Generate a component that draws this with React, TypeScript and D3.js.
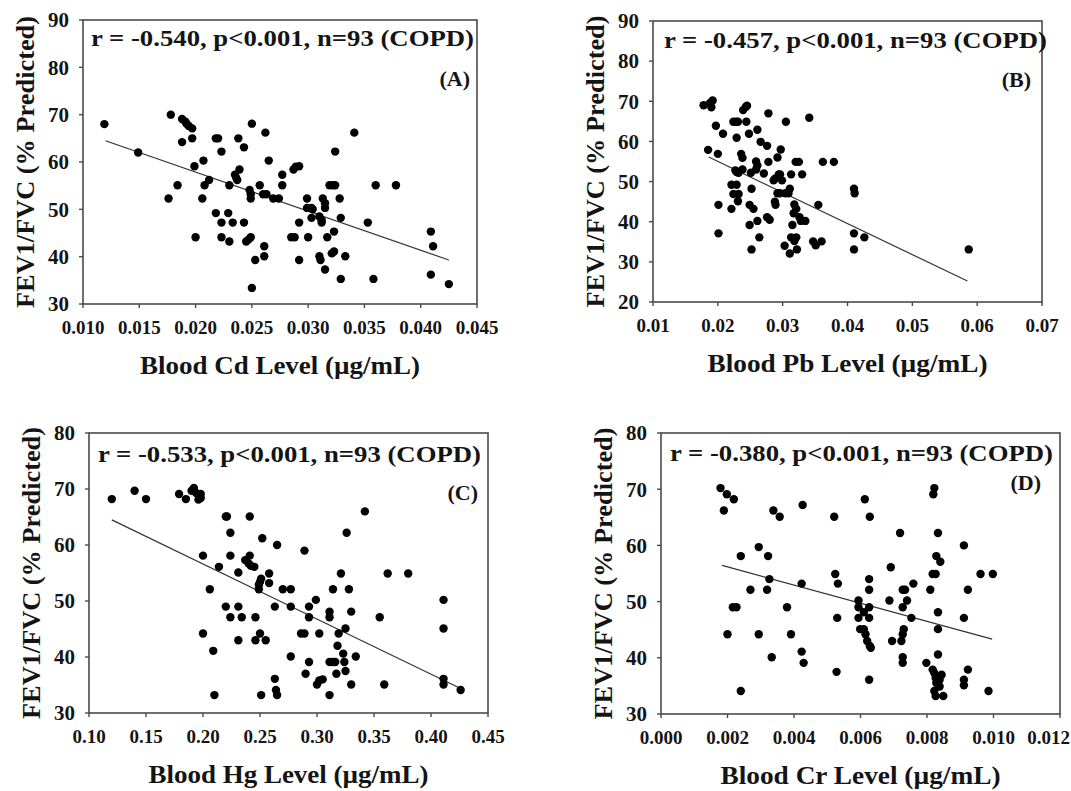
import React from "react";
import * as d3 from "d3";

// FEV1/FVC (% predicted) against blood metal levels, COPD group
const cdPoints: [number, number][] = [
  [0.0119, 68], [0.0149, 62], [0.0178, 70], [0.0176, 52.3], [0.0184, 55.1],
  [0.0188, 69.1], [0.0191, 68.5], [0.0192, 68.1], [0.0194, 67.6], [0.0197, 67.1],
  [0.0188, 64.2], [0.0197, 65], [0.0199, 59.1], [0.02, 44.1], [0.0207, 60.3], [0.0206, 52.3], [0.0208, 55.1], [0.0212, 56.2],
  [0.0218, 65], [0.022, 65], [0.0218, 49.2], [0.0223, 62.2], [0.0223, 47.2], [0.0223, 44.1], [0.0229, 49.2], [0.023, 55.1], [0.0233, 47.2], [0.023, 43.2],
  [0.0235, 57.3], [0.0236, 56.7], [0.0237, 56.2], [0.0238, 65], [0.0239, 58.4], [0.0243, 63.1], [0.0243, 47.2], [0.0245, 43.2],
  [0.025, 68.1], [0.0248, 54.1], [0.0249, 53.2], [0.0249, 52.3], [0.0249, 44.1], [0.0247, 43.6], [0.025, 33.4], [0.0253, 39.3], [0.0257, 55.1],
  [0.026, 53.2], [0.0263, 53.2], [0.0262, 66.2], [0.0261, 42.2], [0.0261, 40.1], [0.0265, 60.3], [0.0269, 52.3], [0.0274, 52.3], [0.0277, 57.3], [0.0277, 55.1],
  [0.0287, 58.4], [0.0289, 59], [0.0292, 59.1], [0.0285, 44.1], [0.0288, 44.1], [0.0292, 47.2], [0.0292, 39.3], [0.0299, 52.3], [0.0299, 50.3], [0.0303, 50.3], [0.0304, 50], [0.03, 44.1], [0.0303, 48.2],
  [0.031, 48.5], [0.0312, 47.7], [0.0312, 47.2], [0.0313, 52.3], [0.0315, 51.3], [0.0315, 50.3], [0.031, 40.1], [0.0311, 39.3], [0.0315, 37.3], [0.0317, 44.1],
  [0.0319, 55.1], [0.0322, 55.1], [0.0324, 55.1], [0.0324, 62.2], [0.0323, 45.3], [0.0321, 40.7], [0.0323, 41.1], [0.0328, 52.3], [0.0329, 48.2], [0.0329, 35.3], [0.0333, 40.1],
  [0.0341, 66.2], [0.0353, 47.2], [0.036, 55.1], [0.0358, 35.3], [0.0378, 55.1], [0.0409, 45.3], [0.0411, 42.2], [0.0409, 36.2], [0.0425, 34.2],
];

const pbPoints: [number, number][] = [
  [0.0178, 69], [0.0188, 69.6], [0.0192, 70.2], [0.019, 68.5], [0.0197, 63.9], [0.0185, 57.9], [0.02, 56.9], [0.0208, 61.9], [0.0201, 44.2], [0.0201, 37.1],
  [0.0221, 43.2], [0.0221, 49.2], [0.0224, 46.9], [0.0224, 64.9], [0.0228, 64.9], [0.0231, 64.9], [0.0229, 60.9], [0.0227, 52.8], [0.0229, 52.4], [0.0232, 52.2],
  [0.0229, 49.2], [0.0232, 46.9], [0.0231, 45.1], [0.0236, 56.9], [0.0238, 55.9], [0.0238, 53.0], [0.0239, 67.8], [0.0243, 68.6], [0.0245, 68.9], [0.0244, 64.9],
  [0.0248, 61.9], [0.0251, 52.2], [0.0252, 48.2], [0.0249, 44.2], [0.0255, 43.2], [0.0249, 39.2], [0.0252, 33.1], [0.0259, 53.0], [0.0261, 54.0], [0.0259, 55.0],
  [0.0261, 62.9], [0.0261, 40.2], [0.0264, 36.1], [0.0266, 59.9], [0.0271, 52.0], [0.0276, 58.9], [0.0278, 67.0], [0.0278, 54.9], [0.0276, 41.1], [0.028, 40.5],
  [0.0286, 50.3], [0.0288, 50.7], [0.0288, 45.0], [0.0289, 44.2], [0.0292, 56.0], [0.0294, 51.8], [0.0296, 51.8], [0.0292, 47.1], [0.0296, 47.1], [0.0297, 58.0],
  [0.0299, 50.3], [0.0303, 34.0], [0.0305, 64.9], [0.0304, 47.1], [0.0309, 47.1], [0.0311, 48.2], [0.0311, 32.1], [0.0313, 51.8], [0.0315, 39.2], [0.0313, 36.1],
  [0.0318, 35.2], [0.0321, 36.1], [0.0317, 42.1], [0.0318, 44.3], [0.0321, 43.2], [0.0322, 33.1], [0.032, 54.9], [0.0325, 54.9], [0.0326, 41.1], [0.0328, 40.2],
  [0.0335, 40.2], [0.033, 51.8], [0.0341, 65.9], [0.0347, 35.1], [0.0351, 34.1], [0.036, 35.1], [0.0355, 44.2], [0.0362, 54.9], [0.0379, 54.9], [0.041, 48.2],
  [0.0411, 47.1], [0.041, 37.1], [0.041, 33.1], [0.0426, 36.1], [0.0587, 33.1],
];

const hgPoints: [number, number][] = [
  [0.12, 68.2], [0.14, 69.7], [0.15, 68.2], [0.179, 69.1], [0.185, 68.2], [0.19, 69.7], [0.192, 70.2], [0.194, 69.3], [0.196, 68.1], [0.198, 69.1],
  [0.198, 68.4], [0.2, 58.1], [0.2, 44.2], [0.206, 52.1], [0.209, 41.1], [0.21, 33.2], [0.214, 56.1], [0.22, 65.1], [0.221, 65.1], [0.22, 49.0],
  [0.224, 62.2], [0.224, 58.1], [0.224, 47.1], [0.231, 55.1], [0.231, 49.0], [0.231, 43.0], [0.234, 47.1], [0.237, 57.3], [0.24, 56.7], [0.242, 56.3],
  [0.245, 56.1], [0.241, 65.1], [0.241, 58.1], [0.246, 47.1], [0.246, 43.0], [0.249, 52.1], [0.249, 52.9], [0.25, 53.4], [0.251, 54.0], [0.25, 44.2],
  [0.251, 33.2], [0.252, 61.2], [0.255, 43.0], [0.258, 54.9], [0.258, 53.2], [0.265, 60.0], [0.263, 49.0], [0.263, 36.1], [0.264, 34.1], [0.265, 33.2],
  [0.27, 52.1], [0.277, 52.1], [0.277, 49.0], [0.277, 40.1], [0.286, 44.2], [0.289, 44.2], [0.289, 59.0], [0.29, 37.0], [0.293, 49.0], [0.293, 47.1],
  [0.293, 39.1], [0.299, 50.2], [0.3, 35.1], [0.302, 35.8], [0.305, 36.0], [0.302, 44.2], [0.311, 33.2], [0.311, 48.1], [0.311, 47.1], [0.311, 39.1],
  [0.314, 39.1], [0.316, 39.1], [0.314, 52.1], [0.317, 37.0], [0.318, 42.0], [0.319, 44.2], [0.321, 54.9], [0.323, 40.6], [0.324, 39.1], [0.325, 45.1],
  [0.325, 37.5], [0.326, 62.2], [0.328, 52.1], [0.33, 48.1], [0.33, 35.1], [0.334, 40.1], [0.342, 66.0], [0.355, 47.1], [0.359, 35.1], [0.362, 54.9],
  [0.38, 54.9], [0.411, 50.2], [0.411, 45.1], [0.411, 36.1], [0.411, 35.1], [0.426, 34.1],
];

const crPoints: [number, number][] = [
  [0.00179, 70.2], [0.00198, 69.1], [0.00219, 68.2], [0.00189, 66.2], [0.002, 44.2], [0.00216, 49.0], [0.00227, 49.0], [0.0024, 58.1], [0.0024, 34.1], [0.00269, 52.1],
  [0.00294, 59.7], [0.00294, 44.2], [0.00322, 58.1], [0.00319, 52.1], [0.00326, 54.0], [0.00333, 40.1], [0.00338, 66.2], [0.00357, 65.1], [0.00379, 49.0], [0.00391, 44.2],
  [0.00423, 53.2], [0.00426, 67.2], [0.00423, 41.1], [0.00429, 39.1], [0.00521, 65.1], [0.00524, 54.9], [0.00532, 53.2], [0.0053, 47.1], [0.00528, 37.5], [0.00594, 50.2],
  [0.00594, 49.0], [0.00594, 47.1], [0.00599, 45.1], [0.0061, 45.1], [0.0061, 48.1], [0.00613, 68.2], [0.00615, 44.2], [0.0062, 43.0], [0.00628, 42.1], [0.00631, 41.8],
  [0.00626, 54.0], [0.00626, 52.1], [0.00626, 49.0], [0.00626, 47.1], [0.00628, 65.1], [0.00626, 36.1], [0.00691, 56.1], [0.00687, 50.2], [0.00695, 43.0], [0.00719, 62.2],
  [0.00723, 43.0], [0.00727, 44.2], [0.0073, 45.1], [0.00727, 49.0], [0.00727, 52.1], [0.00734, 52.1], [0.0074, 50.2], [0.00727, 40.1], [0.00727, 39.1], [0.00753, 47.1],
  [0.00759, 53.2], [0.00798, 39.1], [0.0081, 52.1], [0.00817, 54.9], [0.00826, 54.9], [0.00819, 69.1], [0.00822, 70.2], [0.00817, 37.9], [0.00822, 37.3], [0.00826, 36.4],
  [0.00828, 35.5], [0.00822, 34.1], [0.00826, 33.2], [0.00828, 58.1], [0.0084, 57.1], [0.00833, 62.2], [0.00833, 48.1], [0.00833, 45.1], [0.00833, 40.6], [0.00838, 36.1],
  [0.00844, 37.0], [0.00838, 34.9], [0.00849, 33.2], [0.00911, 60.0], [0.00911, 47.1], [0.00911, 36.1], [0.00911, 35.1], [0.00923, 52.1], [0.00923, 37.9], [0.00961, 54.9],
  [0.00998, 54.9], [0.00985, 34.1],
];

// Axis ticks
const cdXTicks = [0.01, 0.015, 0.02, 0.025, 0.03, 0.035, 0.04, 0.045];
const pbXTicks = [0.01, 0.02, 0.03, 0.04, 0.05, 0.06, 0.07];
const hgXTicks = [0.1, 0.15, 0.2, 0.25, 0.3, 0.35, 0.4, 0.45];
const crXTicks = [0, 0.002, 0.004, 0.006, 0.008, 0.01, 0.012];
const cdYTicks = [30, 40, 50, 60, 70, 80, 90];
const pbYTicks = [20, 30, 40, 50, 60, 70, 80, 90];
const hgYTicks = [30, 40, 50, 60, 70, 80];
const crYTicks = [30, 40, 50, 60, 70, 80];

// Linear fits: [intercept, slope] and the x span the fitted line covers
const cdFit = [74.4, -826];
const pbFit = [70.5, -774];
const hgFit = [76.3, -98.4];
const crFit = [59.4, -1613];
const cdFitSpan = [0.012, 0.0425];
const pbFitSpan = [0.0186, 0.0585];
const hgFitSpan = [0.12, 0.426];
const crFitSpan = [0.00184, 0.00996];

const statLabels = [
  "r = -0.540, p<0.001, n=93 (COPD)",
  "r = -0.457, p<0.001, n=93 (COPD)",
  "r = -0.533, p<0.001, n=93 (COPD)",
  "r = -0.380, p<0.001, n=93 (COPD)",
];
const panelTags = ["(A)", "(B)", "(C)", "(D)"];
const xTitles = [
  "Blood Cd Level (\u00b5g/mL)",
  "Blood Pb Level (\u00b5g/mL)",
  "Blood Hg Level (\u00b5g/mL)",
  "Blood Cr Level (\u00b5g/mL)",
];
const yTitle = "FEV1/FVC (%  Predicted)";

const WIDTH = 1071;
const HEIGHT = 791;
const FONT = "'Liberation Serif', 'Times New Roman', serif";
const INK = "#141414";
const AXIS = "#4a4a4a";

type PanelSpec = {
  box: { left: number; right: number; top: number; bottom: number };
  points: [number, number][];
  xTicks: number[];
  yTicks: number[];
  xFormat: string;
  fit: number[];
  span: number[];
  stat: string;
  tag: string;
  xTitle: string;
  statDx: number;
  statDy: number;
  tagDx: number;
  tagDy: number;
};

const panels: PanelSpec[] = [
  {
    box: { left: 83, right: 477, top: 20, bottom: 304 },
    points: cdPoints, xTicks: cdXTicks, yTicks: cdYTicks, xFormat: ".3f",
    fit: cdFit, span: cdFitSpan, stat: statLabels[0], tag: panelTags[0], xTitle: xTitles[0],
    statDx: 8, statDy: 26, tagDx: 7, tagDy: 66,
  },
  {
    box: { left: 653, right: 1042, top: 21, bottom: 302 },
    points: pbPoints, xTicks: pbXTicks, yTicks: pbYTicks, xFormat: ".2f",
    fit: pbFit, span: pbFitSpan, stat: statLabels[1], tag: panelTags[1], xTitle: xTitles[1],
    statDx: 11, statDy: 27, tagDx: 11, tagDy: 66,
  },
  {
    box: { left: 89, right: 488, top: 433, bottom: 713 },
    points: hgPoints, xTicks: hgXTicks, yTicks: hgYTicks, xFormat: ".2f",
    fit: hgFit, span: hgFitSpan, stat: statLabels[2], tag: panelTags[2], xTitle: xTitles[2],
    statDx: 9, statDy: 29, tagDx: 10, tagDy: 67,
  },
  {
    box: { left: 661, right: 1060, top: 433, bottom: 714 },
    points: crPoints, xTicks: crXTicks, yTicks: crYTicks, xFormat: ".3f",
    fit: crFit, span: crFitSpan, stat: statLabels[3], tag: panelTags[3], xTitle: xTitles[3],
    statDx: 9, statDy: 28, tagDx: 19, tagDy: 57,
  },
];

function Panel({ spec }: { spec: PanelSpec }) {
  const { box } = spec;
  const x = d3
    .scaleLinear()
    .domain([spec.xTicks[0], spec.xTicks[spec.xTicks.length - 1]])
    .range([box.left, box.right]);
  const y = d3
    .scaleLinear()
    .domain([spec.yTicks[0], spec.yTicks[spec.yTicks.length - 1]])
    .range([box.bottom, box.top]);
  const fmt = d3.format(spec.xFormat);
  const fitLine = d3
    .line<number>()
    .x((v) => x(v))
    .y((v) => y(spec.fit[0] + spec.fit[1] * v));
  const midX = (box.left + box.right) / 2;
  const midY = (box.top + box.bottom) / 2;

  return (
    <g>
      <rect
        x={box.left}
        y={box.top}
        width={box.right - box.left}
        height={box.bottom - box.top}
        fill="none"
        stroke={AXIS}
        strokeWidth={1.6}
      />
      {spec.xTicks.map((t) => {
        const tx = x(t);
        // keep the outermost label inside the canvas
        const nearEdge = tx + 21 > WIDTH - 2;
        return (
          <g key={"x" + t}>
            <line x1={tx} x2={tx} y1={box.bottom} y2={box.bottom + 4} stroke={AXIS} strokeWidth={1.4} />
            <text
              x={nearEdge ? WIDTH - 1 : tx}
              y={box.bottom + 30}
              textAnchor={nearEdge ? "end" : "middle"}
              fontSize={19}
              fontWeight="bold"
              fontFamily={FONT}
              fill={INK}
            >
              {fmt(t)}
            </text>
          </g>
        );
      })}
      {spec.yTicks.map((t) => (
        <g key={"y" + t}>
          <line x1={box.left - 4} x2={box.left} y1={y(t)} y2={y(t)} stroke={AXIS} strokeWidth={1.4} />
          <text
            x={box.left - 14}
            y={y(t)}
            dy="0.35em"
            textAnchor="end"
            fontSize={21}
            fontWeight="bold"
            fontFamily={FONT}
            fill={INK}
          >
            {t}
          </text>
        </g>
      ))}
      <path d={fitLine(spec.span) ?? ""} fill="none" stroke="#333" strokeWidth={1.2} />
      {spec.points.map((p, i) => (
        <circle key={i} cx={x(p[0])} cy={y(p[1])} r={4.2} fill="#000" />
      ))}
      <text
        x={box.left + spec.statDx}
        y={box.top + spec.statDy}
        fontSize={24}
        fontWeight="bold"
        fontFamily={FONT}
        fill={INK}
        textLength={383}
        lengthAdjust="spacingAndGlyphs"
      >
        {spec.stat}
      </text>
      <text
        x={box.right - spec.tagDx}
        y={box.top + spec.tagDy}
        textAnchor="end"
        fontSize={22}
        fontWeight="bold"
        fontFamily={FONT}
        fill={INK}
      >
        {spec.tag}
      </text>
      <text
        x={midX}
        y={box.bottom + 70}
        textAnchor="middle"
        fontSize={26}
        fontWeight="bold"
        fontFamily={FONT}
        fill={INK}
        textLength={280}
        lengthAdjust="spacingAndGlyphs"
      >
        {spec.xTitle}
      </text>
      <text
        transform={`translate(${box.left - 49},${midY}) rotate(-90)`}
        textAnchor="middle"
        fontSize={26}
        fontWeight="bold"
        fontFamily={FONT}
        fill={INK}
        textLength={292}
        lengthAdjust="spacingAndGlyphs"
      >
        {yTitle}
      </text>
    </g>
  );
}

export default function App() {
  return (
    <svg
      width={WIDTH}
      height={HEIGHT}
      style={{ position: "absolute", left: 0, top: 0, background: "#fff" }}
    >
      <rect width={WIDTH} height={HEIGHT} fill="#fff" />
      {panels.map((p, i) => (
        <Panel key={i} spec={p} />
      ))}
    </svg>
  );
}
